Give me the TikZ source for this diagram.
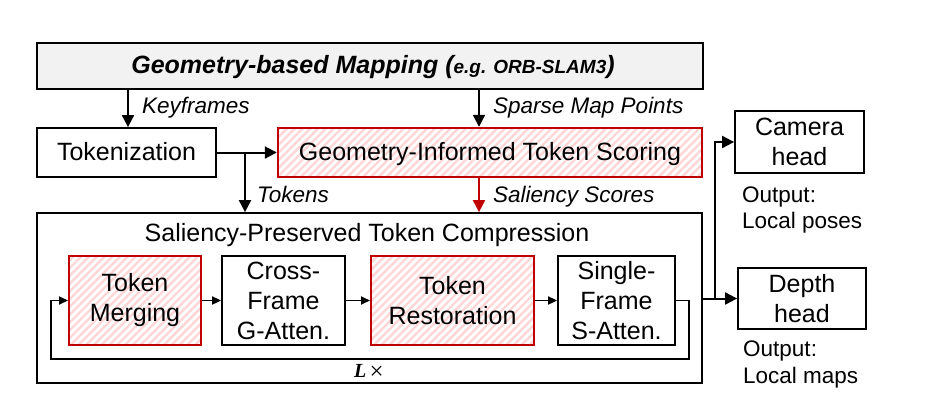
\documentclass[tikz,border=0pt]{standalone}
\usepackage{fontspec}
\setmainfont{Liberation Sans}
\newfontfamily\serifL{Liberation Serif}
\usetikzlibrary{arrows.meta,patterns.meta}
\definecolor{myred}{HTML}{C00000}
\definecolor{mypink}{HTML}{FFD6D6}
\definecolor{mygray}{HTML}{F2F2F2}
\tikzset{
  box/.style={draw, line width=1.8pt, inner sep=0pt, align=center, font=\fontsize{25}{30}\selectfont},
  one/.style={text height=18pt, text depth=3pt},
  hatch/.style={draw=myred, line width=2pt, pattern={Lines[angle=45,distance=5.5pt,line width=2.4pt]}, pattern color=mypink},
  arr/.style={-{Triangle[length=12pt,width=12pt]}, line width=2pt},
  sarr/.style={-{Triangle[length=9pt,width=8pt]}, line width=1.8pt},
  lbl/.style={font=\fontsize{22.5}{26}\selectfont\itshape, anchor=base west, inner sep=0pt},
  outtxt/.style={font=\fontsize{22.5}{26}\selectfont, anchor=base west, inner sep=0pt}
}
\begin{document}
\begin{tikzpicture}[x=1pt,y=-1pt]
\useasboundingbox (0,0) rectangle (930,400);
% top box
\node[box, one, fill=mygray, minimum width=666, minimum height=46] (top) at (370,66) {};
\node[anchor=base, inner sep=0pt, font=\fontsize{25}{30}\selectfont\bfseries\itshape] (toptxt) at (373,73)
  {Geometry-based Mapping ({\fontsize{19}{22}\selectfont e.g. ORB-SLAM3})};
% second row
\node[box, one, minimum width=179, minimum height=49] (tok) at (126.5,152.5) {Tokenization};
\node[box, one, hatch, minimum width=424, minimum height=49] (gits) at (490,152.5) {Geometry-Informed Token Scoring};
% compression
\node[box, minimum width=665, minimum height=170] (comp) at (369.5,298) {};
\node[anchor=base, inner sep=0pt, font=\fontsize{25}{30}\selectfont] (comptitle) at (367,241.7) {Saliency-Preserved Token Compression};
\node[box, hatch, minimum width=132, minimum height=89] (merge) at (135,300.5) {Token\\Merging};
\node[box, minimum width=123, minimum height=89] (cross) at (283.5,300.5) {Cross-\\Frame\\G-Atten.};
\node[box, hatch, minimum width=163, minimum height=89] (rest) at (452.5,300.5) {Token\\Restoration};
\node[box, minimum width=117, minimum height=89] (single) at (616.5,300.5) {Single-\\Frame\\S-Atten.};
\node[anchor=base, inner sep=0pt, font=\fontsize{20}{22}\selectfont\serifL] (ltimes) at (369,377) {\textbf{\textit{L}}\,\raisebox{-2.5pt}{\fontsize{25}{25}\selectfont ×}};
% heads
\node[box, minimum width=129, minimum height=62] (cam) at (799.5,142) {Camera\\head};
\node[box, minimum width=128, minimum height=61] (depth) at (802,298.5) {Depth\\head};
\node[outtxt] (o1) at (742,202) {Output:};
\node[outtxt] (o2) at (742,228.5) {Local poses};
\node[outtxt] (o3) at (743,356) {Output:};
\node[outtxt] (o4) at (743,383) {Local maps};
% coordinates
\coordinate (sx) at (479,0);
\coordinate (bx) at (245,152.5);
\coordinate (kx) at (128,0);
\coordinate (vx) at (715,298.5);
% arrows
\draw[arr] (kx |- top.south) -- (kx |- tok.north);
\node[lbl] (kf) at (142,113) {Keyframes};
\draw[arr] (sx |- top.south) -- (sx |- gits.north);
\node[lbl] (smp) at (493,113) {Sparse Map Points};
\draw[arr] (tok.east) -- (gits.west);
\draw[arr] (bx) -- (bx |- comp.north);
\node[lbl] (tk) at (257,202.7) {Tokens};
\draw[arr, myred] (sx |- gits.south) -- (sx |- comp.north);
\node[lbl] (ss) at (493,202.7) {Saliency Scores};
\draw[sarr] (merge) -- (cross);
\draw[sarr] (cross) -- (rest);
\draw[sarr] (rest) -- (single);
\draw[sarr] (single.east) -| (689,359) -| (51,300.5) -- (merge.west);
\draw[arr] (comp.east |- depth.west) -- (depth.west);
\draw[arr] (vx) |- (cam.west);
\end{tikzpicture}
\end{document}
